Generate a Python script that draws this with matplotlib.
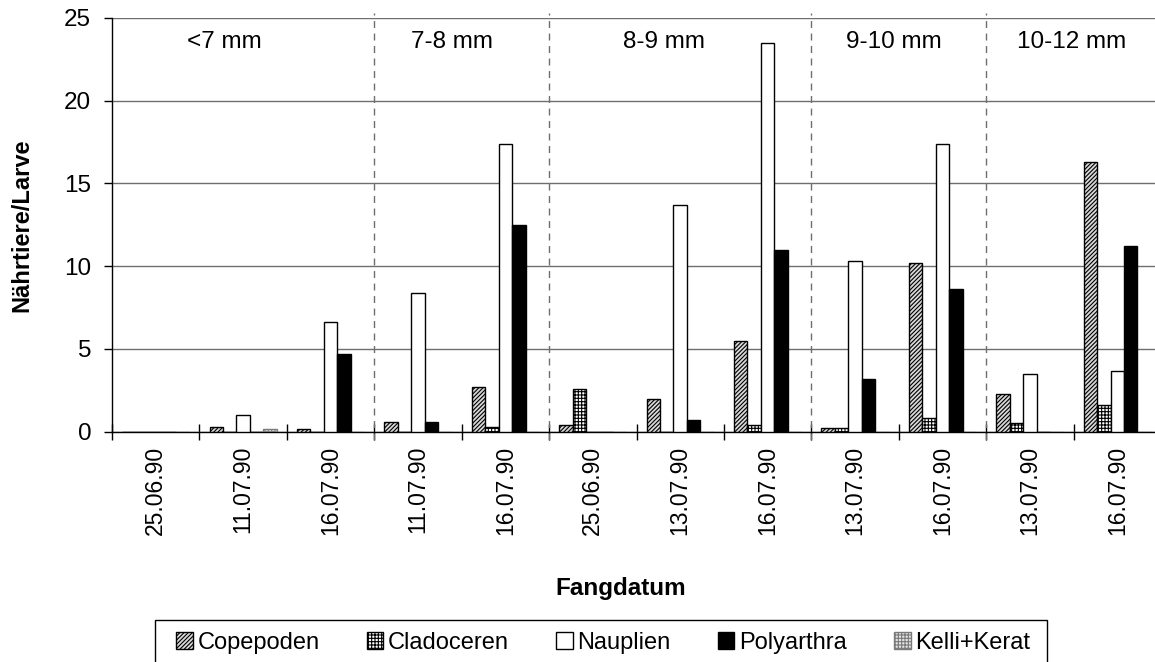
import matplotlib
matplotlib.use("Agg")
import matplotlib.pyplot as plt
from matplotlib.patches import Rectangle
import numpy as np

plt.rcParams['font.family'] = ['Liberation Sans', 'DejaVu Sans']
plt.rcParams['hatch.linewidth'] = 0.8

# Size classes and the catch dates sampled within each class
groups = ['<7 mm', '7-8 mm', '8-9 mm', '9-10 mm', '10-12 mm']
group_dates = [
    ['25.06.90', '11.07.90', '16.07.90'],
    ['11.07.90', '16.07.90'],
    ['25.06.90', '13.07.90', '16.07.90'],
    ['13.07.90', '16.07.90'],
    ['13.07.90', '16.07.90'],
]
dates = [d for g in group_dates for d in g]

# Prey items per larva
copepoden  = [0.0, 0.27, 0.17, 0.6, 2.7, 0.37, 1.98, 5.5, 0.23, 10.2, 2.26, 16.3]
cladoceren = [0.0, 0.0, 0.0, 0.0, 0.29, 2.59, 0.0, 0.39, 0.23, 0.8, 0.5, 1.6]
nauplien   = [0.0, 1.0, 6.6, 8.4, 17.4, 0.0, 13.7, 23.5, 10.3, 17.4, 3.5, 3.68]
polyarthra = [0.0, 0.0, 4.7, 0.6, 12.5, 0.0, 0.7, 11.0, 3.2, 8.6, 0.0, 11.2]
kelli_kerat = [0.0, 0.13, 0.0, 0.0, 0.0, 0.0, 0.0, 0.0, 0.0, 0.0, 0.0, 0.0]

series = [
    ('Copepoden', copepoden, dict(facecolor='#d8d8d8', edgecolor='black', hatch='////////')),
    ('Cladoceren', cladoceren, dict(facecolor='white', edgecolor='black', hatch='+++++')),
    ('Nauplien', nauplien, dict(facecolor='white', edgecolor='black')),
    ('Polyarthra', polyarthra, dict(facecolor='black', edgecolor='black')),
    ('Kelli+Kerat', kelli_kerat, dict(facecolor='#e4e4e4', edgecolor='#7a7a7a', hatch='+++++')),
]

W, H = 1155, 662
fig = plt.figure(figsize=(W / 100, H / 100), dpi=100)
left, right, top, bottom = 112, 1161, 18, 431.5
ax = fig.add_axes([left / W, 1 - bottom / H, (right - left) / W, (bottom - top) / H])

x = np.arange(len(dates))
n = len(series)
width = 1 / (n + 1.5)
for i, (name, vals, style) in enumerate(series):
    ax.bar(x + (i - (n - 1) / 2) * width, vals, width, label=name,
           linewidth=1.0, zorder=3, **style)

ax.set_xlim(-0.5, len(dates) - 0.5)
ax.set_ylim(0, 25)
ax.set_yticks(np.arange(0, 26, 5))
ax.yaxis.grid(True, color='#6e6e6e', linewidth=1.0, zorder=0)
ax.set_axisbelow(True)

for s in ['top', 'right']:
    ax.spines[s].set_visible(False)
for s in ['left', 'bottom']:
    ax.spines[s].set_color('black')
    ax.spines[s].set_linewidth(1.0)

# Category labels at centres, tick marks at boundaries
ax.set_xticks(x)
ax.set_xticklabels(dates, rotation=90, fontsize=16.5)
ax.tick_params(axis='x', which='major', length=0, pad=10)
ax.set_xticks(np.arange(len(dates) + 1) - 0.5, minor=True)
ax.tick_params(axis='x', which='minor', direction='inout', length=11, width=1.0)
ax.tick_params(axis='y', direction='out', length=6, width=1.0, pad=9, labelsize=17.5)

# Dashed separators between size classes
sizes = [len(g) for g in group_dates]
bounds = np.cumsum(sizes)[:-1] - 0.5
for b in bounds:
    ax.axvline(b, ymin=-0.021, ymax=1.012, color='#6e6e6e', linewidth=1.0,
               linestyle=(0, (5, 4)), clip_on=False, zorder=2)

# Size-class headers
label_x = [0.78, 3.39, 5.82, 8.44, 10.48]
for gx, g in zip(label_x, groups):
    ax.text(gx, 23.55, g, ha='center', va='center', fontsize=17.5)

ax.set_ylabel('Nährtiere/Larve', fontsize=17, fontweight='bold')
ax.yaxis.set_label_coords(-(left - 33) / (right - left), 0.5)
fig.text(621 / W, 1 - 588 / H, 'Fangdatum', ha='center', va='center',
         fontsize=17.5, fontweight='bold')

# Legend entries in one row; the frame runs past the lower figure edge
leg = fig.legend(loc='center left', bbox_to_anchor=(176 / W, 1 - 643 / H),
                 ncol=5, fontsize=17, frameon=False,
                 handlelength=0.7, handleheight=0.7,
                 handletextpad=0.2, columnspacing=2.0, borderpad=0,
                 borderaxespad=0)
fig.canvas.draw()
bb = leg.get_window_extent()
frame_top = H - 620
fig.add_artist(Rectangle((bb.x0 - 21, -10), bb.width + 21 + 17, frame_top + 10,
                         transform=None, facecolor='none', edgecolor='black',
                         linewidth=1.0))

fig.savefig('out.png', dpi=100)
